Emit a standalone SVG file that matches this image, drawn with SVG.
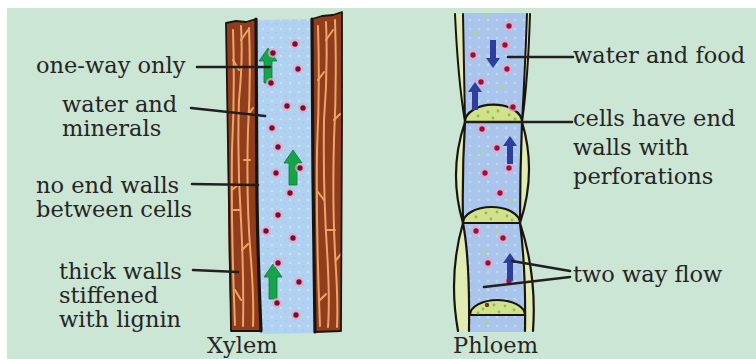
<svg xmlns="http://www.w3.org/2000/svg" width="756" height="359" viewBox="0 0 756 359">
  <defs>
    <style>
      .lbl { font-family: "DejaVu Serif", "Liberation Serif", serif; font-size: 22.5px; fill: #262424; }
      .lead { stroke: #231f20; stroke-width: 2.6; fill: none; stroke-linecap: round; }
      .wood { fill: #8f3d1d; }
      .grain { stroke: #eda565; stroke-width: 2; fill: none; stroke-linecap: round; }
      .edge { stroke: #1a1410; fill: none; stroke-linecap: round; stroke-linejoin: round; }
      .xyl-sap { fill: #b0d2f0; }
      .phl-sap { fill: #aac5ec; }
      .wallfill { fill: #e1ebb4; }
      .plate { fill: #d2e28a; stroke: #1a1410; stroke-width: 2.2; }
      .plate-dot { fill: #86bd5a; }
      .garrow { fill: #16a44b; stroke: #0b7a36; stroke-width: 0.8; }
      .barrow { fill: #2c3f9c; }
      .halo { fill: #e7a6c8; opacity: 0.75; }
      .core { fill: #7a0c2c; }
      .pcore { fill: #9b0f3e; }
      .gdot { fill: #a7d690; }
    </style>
    <pattern id="speckle" width="9" height="9" patternUnits="userSpaceOnUse">
      <circle cx="2" cy="2" r="1.3" fill="#d2e6f7"/>
      <circle cx="6.5" cy="6" r="1.1" fill="#9cc3ea"/>
    </pattern>
    <g id="dot"><circle class="halo" r="5"/><circle class="core" r="2.7"/></g>
    <g id="pdot"><circle class="halo" r="5"/><circle class="pcore" r="2.7"/></g>
    <!-- block arrows pointing up, origin at the tip -->
    <path id="gUp" class="garrow" d="M0 0 L9 13 L4 13 L4 35 L-4 35 L-4 13 L-9 13 Z"/>
    <path id="bUp" class="barrow" d="M0 0 L7 10 L3 10 L3 28 L-3 28 L-3 10 L-7 10 Z"/>
  </defs>

  <!-- page and panel -->
  <rect x="0" y="0" width="756" height="359" fill="#ffffff"/>
  <rect x="7" y="8" width="749" height="351" fill="#cbe6d4"/>

  <!-- Xylem vessel -->
  <g id="xylem">
    <path class="xyl-sap" d="M256 20 L312 19 L313 180 Q314 260 315 333 L261 334 Q258 262 257 200 Z"/>
    <path fill="url(#speckle)" opacity="0.6" d="M256 20 L312 19 L313 180 Q314 260 315 333 L261 334 Q258 262 257 200 Z"/>
    <!-- left lignified wall -->
    <path class="wood" d="M226 23 L236 21 L246 22 L256 19 L257 200 Q258 262 261 331 L231 331 Q228 260 228 190 Z"/>
    <path class="grain" d="M233 30 Q235 90 232 150 Q231 230 235 325"/>
    <path class="grain" d="M241 26 Q243 60 239 100 Q237 160 241 220 Q244 280 243 326"/>
    <path class="grain" d="M249 28 Q251 80 248 130 Q246 200 251 260 Q254 300 253 326"/>
    <path class="grain" d="M241 40 L248 30 M239 70 L233 60 M248 115 L253 108 M232 190 L239 184 M242 250 L248 244 M235 290 L241 300 M232 210 L240 210 M244 160 L250 160"/>
    <path class="edge" stroke-width="1.8" d="M226 23 L236 21 L246 22 L256 19 M226 23 Q229 180 231 331 L261 331"/>
    <path class="edge" stroke-width="3.2" d="M256 19 L257 200 Q258 262 261 331"/>
    <!-- right lignified wall -->
    <path class="wood" d="M312 19 L322 16 L333 15 L342 12 L342 120 L341 331 L315 332 Q314 260 313 180 Z"/>
    <path class="grain" d="M318 26 Q320 90 317 150 Q316 230 320 326"/>
    <path class="grain" d="M326 22 Q328 70 324 120 Q323 190 327 250 Q330 300 328 327"/>
    <path class="grain" d="M335 20 Q337 80 334 140 Q332 210 336 270 Q338 305 337 327"/>
    <path class="grain" d="M326 40 L333 30 M318 80 L324 72 M334 120 L340 114 M324 200 L318 192 M336 260 L341 254 M320 300 L326 294 M327 230 L335 230"/>
    <path class="edge" stroke-width="3.2" d="M312 19 L313 180 Q314 260 315 332"/>
    <path class="edge" stroke-width="1.8" d="M312 19 L322 16 L333 15 L342 12 L342 120 L341 331 L315 332"/>
    <!-- contents -->
    <use href="#gUp" x="268" y="48"/>
    <use href="#gUp" x="293" y="150"/>
    <use href="#gUp" x="273" y="264"/>
    <use href="#dot" x="295" y="44"/>
    <use href="#dot" x="273" y="53"/>
    <use href="#dot" x="298" y="69"/>
    <use href="#dot" x="271" y="83"/>
    <use href="#dot" x="287" y="106"/>
    <use href="#dot" x="303" y="108"/>
    <use href="#dot" x="272" y="128"/>
    <use href="#dot" x="278" y="147"/>
    <use href="#dot" x="276" y="173"/>
    <use href="#dot" x="300" y="168"/>
    <use href="#dot" x="290" y="193"/>
    <use href="#dot" x="278" y="215"/>
    <use href="#dot" x="266" y="231"/>
    <use href="#dot" x="293" y="238"/>
    <use href="#dot" x="278" y="263"/>
    <use href="#dot" x="299" y="282"/>
    <use href="#dot" x="277" y="303"/>
    <use href="#dot" x="296" y="315"/>
  </g>

  <!-- Phloem sieve tube -->
  <g id="phloem">
    <path class="phl-sap" d="M463 13 L527 13 L523 122 L520 223 L525 332 L469 332 L463 223 L465 122 Z"/>
    <path fill="url(#speckle)" opacity="0.5" d="M463 13 L527 13 L523 122 L520 223 L525 332 L469 332 L463 223 L465 122 Z"/>
    <!-- cell walls: upper cell -->
    <path class="wallfill" d="M455 14 Q458 80 465 122 Q464 70 463 14 Z"/>
    <path class="wallfill" d="M527 14 Q525 70 522 122 Q528 80 530 14 Z"/>
    <path class="edge" stroke-width="2" d="M455 14 Q458 80 465 122 M463 14 Q464 70 465 122 M527 14 Q525 70 522 122 M530 14 Q528 80 522 122"/>
    <!-- middle cell -->
    <path class="wallfill" d="M465 122 Q448 172 463 223 Q462 172 465 122 Z"/>
    <path class="wallfill" d="M522 122 Q537 172 520 223 Q520 172 522 122 Z"/>
    <path class="edge" stroke-width="2.2" d="M465 122 Q448 172 463 223 M465 122 Q462 172 463 223 M522 122 Q537 172 520 223 M522 122 Q520 172 520 223"/>
    <!-- lower cell -->
    <path class="wallfill" d="M463 223 Q448 275 458 331 L469 331 Q469 270 463 223 Z"/>
    <path class="wallfill" d="M520 223 Q527 270 525 331 L533 331 Q536 275 520 223 Z"/>
    <path class="edge" stroke-width="2.2" d="M463 223 Q448 275 458 331 M463 223 Q470 260 469 331 M520 223 Q526 270 525 331 M520 223 Q537 275 533 331"/>
    <!-- sieve plates -->
    <path class="plate" d="M465 122 A28 17 0 0 1 522 122 Z"/>
    <path class="plate" d="M463 223 A28.5 16 0 0 1 520 223 Z"/>
    <path class="plate" d="M470 315 A27.5 15 0 0 1 525 315 Z"/>
    <g class="plate-dot">
      <circle cx="478" cy="116" r="1.4"/><circle cx="488" cy="112" r="1.4"/><circle cx="498" cy="111" r="1.4"/><circle cx="509" cy="115" r="1.4"/><circle cx="493" cy="118" r="1.4"/><circle cx="515" cy="119" r="1.4"/>
      <circle cx="476" cy="217" r="1.4"/><circle cx="486" cy="213" r="1.4"/><circle cx="497" cy="212" r="1.4"/><circle cx="507" cy="216" r="1.4"/><circle cx="491" cy="219" r="1.4"/><circle cx="512" cy="220" r="1.4"/>
      <circle cx="483" cy="309" r="1.4"/><circle cx="494" cy="305" r="1.4"/><circle cx="505" cy="306" r="1.4"/><circle cx="514" cy="310" r="1.4"/><circle cx="499" cy="312" r="1.4"/><circle cx="478" cy="313" r="1.4"/>
    </g>
    <!-- contents -->
    <g class="gdot">
      <circle cx="487" cy="15" r="2"/><circle cx="476" cy="33" r="2"/><circle cx="492" cy="62" r="2"/><circle cx="501" cy="87" r="2"/><circle cx="479" cy="152" r="2"/><circle cx="511" cy="201" r="2"/><circle cx="484" cy="252" r="2"/><circle cx="487" cy="322" r="2"/><circle cx="497" cy="232" r="2"/>
    </g>
    <use href="#pdot" x="509" y="26"/>
    <use href="#pdot" x="505" y="45"/>
    <use href="#pdot" x="473" y="55"/>
    <use href="#pdot" x="507" y="69"/>
    <use href="#pdot" x="481" y="82"/>
    <use href="#pdot" x="513" y="107"/>
    <use href="#pdot" x="482" y="129"/>
    <use href="#pdot" x="497" y="148"/>
    <use href="#pdot" x="509" y="168"/>
    <use href="#pdot" x="485" y="173"/>
    <use href="#pdot" x="500" y="193"/>
    <use href="#pdot" x="476" y="231"/>
    <use href="#pdot" x="503" y="238"/>
    <use href="#pdot" x="488" y="263"/>
    <use href="#pdot" x="509" y="281"/>
    <circle cx="487" cy="305" r="2.2" fill="#6a3a20"/>
    <use href="#bUp" x="493" y="0" transform="rotate(180 493 34)" />
    <use href="#bUp" x="475" y="82"/>
    <use href="#bUp" x="510" y="136"/>
    <use href="#bUp" x="478" y="0" transform="rotate(180 478 196)"/>
    <use href="#bUp" x="510" y="253"/>
    <use href="#bUp" x="480" y="0" transform="rotate(180 480 284)"/>
  </g>

  <!-- leader lines -->
  <g id="connectors">
    <path class="lead" d="M197 67 L270 67"/>
    <path class="lead" d="M191 108 L265 116"/>
    <path class="lead" d="M192 184 L258 185"/>
    <path class="lead" d="M193 270 L238 272"/>
    <path class="lead" d="M508 57 L573 57"/>
    <path class="lead" d="M465 122 L572 122"/>
    <path class="lead" d="M512 261 L570 271"/>
    <path class="lead" d="M484 287 L570 277"/>
  </g>

  <!-- labels -->
  <g id="labels">
    <text class="lbl" x="36" y="73">one-way only</text>
    <text class="lbl" x="62" y="112">water and</text>
    <text class="lbl" x="62" y="136">minerals</text>
    <text class="lbl" x="36" y="193">no end walls</text>
    <text class="lbl" x="36" y="217">between cells</text>
    <text class="lbl" x="59" y="279">thick walls</text>
    <text class="lbl" x="59" y="303">stiffened</text>
    <text class="lbl" x="59" y="327">with lignin</text>
    <text class="lbl" x="573" y="63">water and food</text>
    <text class="lbl" x="573" y="126">cells have end</text>
    <text class="lbl" x="573" y="155">walls with</text>
    <text class="lbl" x="573" y="184">perforations</text>
    <text class="lbl" x="573" y="282">two way flow</text>
    <text class="lbl" x="207" y="353">Xylem</text>
    <text class="lbl" x="453" y="353">Phloem</text>
  </g>
</svg>
